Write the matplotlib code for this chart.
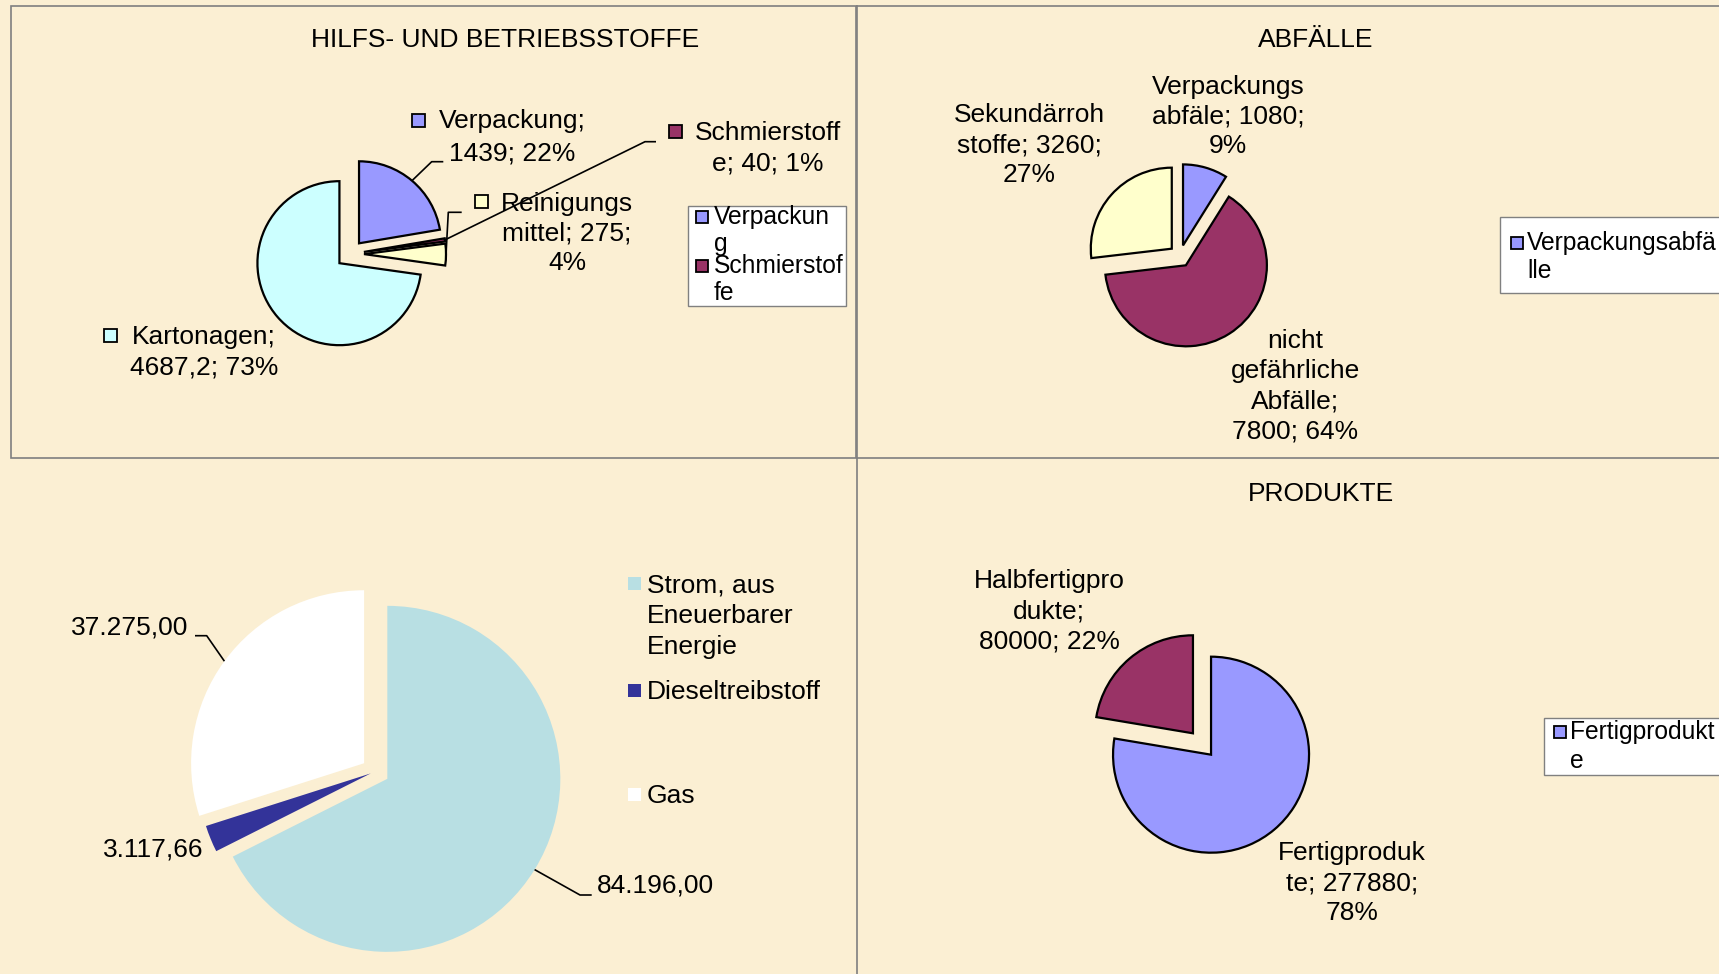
import numpy as np
import matplotlib
matplotlib.use("Agg")
import matplotlib.pyplot as plt
from matplotlib.patches import Rectangle

plt.rcParams["font.family"] = ["Liberation Sans", "DejaVu Sans"]

# ---- data -----------------------------------------------------------
hilfs_names = ["Verpackung", "Schmierstoffe", "Reinigungsmittel", "Kartonagen"]
hilfs_values = [1439, 40, 275, 4687.2]
hilfs_labels = ["Verpackung;\n1439; 22%", "Schmierstoff\ne; 40; 1%",
                "Reinigungs\nmittel; 275;\n4%", "Kartonagen;\n4687,2; 73%"]
hilfs_legend = ["Verpackun\ng", "Schmierstof\nfe"]
hilfs_colors = ["#9999FF", "#993366", "#FFFFCC", "#CCFFFF"]

abfall_names = ["Verpackungsabfälle", "nicht gefährliche Abfälle", "Sekundärrohstoffe"]
abfall_values = [1080, 7800, 3260]
abfall_labels = ["Verpackungs\nabfäle; 1080;\n9%", "nicht\ngefährliche\nAbfälle;\n7800; 64%",
                 "Sekundärroh\nstoffe; 3260;\n27%"]
abfall_legend = ["Verpackungsabfä\nlle"]
abfall_colors = ["#9999FF", "#993366", "#FFFFCC"]

energie_names = ["Strom, aus Eneuerbarer Energie", "Dieseltreibstoff", "Gas"]
energie_values = [84196.00, 3117.66, 37275.00]
energie_legend = ["Strom, aus\nEneuerbarer\nEnergie", "Dieseltreibstoff", "Gas"]
energie_colors = ["#B8DFE3", "#333399", "#FFFFFF"]

produkt_names = ["Fertigprodukte", "Halbfertigprodukte"]
produkt_values = [277880, 80000]
produkt_labels = ["Fertigproduk\nte; 277880;\n78%", "Halbfertigpro\ndukte;\n80000; 22%"]
produkt_legend = ["Fertigprodukt\ne"]
produkt_colors = ["#9999FF", "#993366"]

# ---- setup ------------------------------------------------------------
W, H = 1719, 974
BG = "#FBEFD3"
FS = 19
LFS = 17.7

fig = plt.figure(figsize=(W / 100, H / 100), dpi=100, facecolor=BG)
ax = fig.add_axes([0, 0, 1, 1])


def Y(y):
    # pixel row -> data y
    return H - y


def lines_text(x, y, text, dy=30.5, ha="center", size=FS):
    for i, line in enumerate(text.split("\n")):
        ax.text(x, Y(y + i * dy), line, ha=ha, va="center", fontsize=size,
                color="black", zorder=6)


def key(x, y, color, edge=True, s=13):
    ax.add_patch(Rectangle((x - s / 2, Y(y) - s / 2), s, s, facecolor=color,
                           edgecolor="black" if edge else color,
                           lw=1.3 if edge else 0, zorder=5))


def pie(values, colors, c, r, expl, edge=True):
    if np.isscalar(expl):
        expl = [expl] * len(values)
    wp = dict(edgecolor="black", linewidth=1.6) if edge else dict(linewidth=0)
    wedges, _ = ax.pie(values, colors=colors, startangle=90, counterclock=False,
                       center=(c[0], Y(c[1])), radius=r,
                       explode=expl, wedgeprops=wp, frame=True)
    return wedges


def leader(w, *pts):
    t = np.deg2rad((w.theta1 + w.theta2) / 2)
    x0 = w.center[0] + w.r * np.cos(t)
    y0 = w.center[1] + w.r * np.sin(t)
    ax.plot([x0] + [p[0] for p in pts], [y0] + [Y(p[1]) for p in pts],
            color="black", lw=1.2, zorder=4, solid_capstyle="butt")


def legend_box(x0, y0, x1, y1):
    ax.add_patch(Rectangle((x0, Y(y1)), x1 - x0, y1 - y0, facecolor="white",
                           edgecolor="#808080", lw=1.0, zorder=3))


def de(v):
    return f"{v:,.2f}".replace(",", " ").replace(".", ",").replace(" ", ".")


# ---- panel frames ---------------------------------------------------------
frame_kw = dict(color="#7F7F7F", lw=1.2, zorder=0.5)
ax.add_patch(Rectangle((10.7, Y(458)), 855.5 - 10.7, 458 - 5.5, fill=False,
                       edgecolor="#7F7F7F", lw=1.2))
ax.plot([857, 857], [Y(5.5), Y(974)], **frame_kw)
ax.plot([857, W], [Y(5.5), Y(5.5)], **frame_kw)
ax.plot([857, W], [Y(458), Y(458)], **frame_kw)

# ---- HILFS- UND BETRIEBSSTOFFE ------------------------------------------
ax.text(505, Y(40), "HILFS- UND BETRIEBSSTOFFE", ha="center", va="center", fontsize=FS)
w1 = pie(hilfs_values, hilfs_colors, (350, 254), 82, 14)
leader(w1[0], (431.7, 161.7), (443.3, 161.7))
leader(w1[1], (645, 141.7), (656, 141.7))
leader(w1[2], (448.3, 212.3), (461.7, 212.3))
lines_text(512, 121, hilfs_labels[0], dy=32)
key(418.5, 120, hilfs_colors[0])
lines_text(768, 133, hilfs_labels[1], dy=31)
key(675, 131.5, hilfs_colors[1])
lines_text(567, 204, hilfs_labels[2], dy=29.5)
key(481, 201.5, hilfs_colors[2])
lines_text(204, 337, hilfs_labels[3], dy=31)
key(110, 335, hilfs_colors[3])

legend_box(688, 206, 846, 306)
for i, (lab, col) in enumerate(zip(hilfs_legend, hilfs_colors)):
    y = 217 + i * 49
    key(702, y, col, s=12)
    lines_text(714, y, lab, dy=27, ha="left", size=LFS)

# ---- ABFÄLLE ------------------------------------------------------------
ax.text(1316, Y(40), "ABFÄLLE", ha="center", va="center", fontsize=FS)
w2 = pie(abfall_values, abfall_colors, (1180, 256), 81, 11)
lines_text(1228, 87, abfall_labels[0], dy=29.5)
lines_text(1295, 341, abfall_labels[1], dy=30.3)
lines_text(1029, 115, abfall_labels[2], dy=30)

legend_box(1500, 217, W + 20, 293)
key(1517, 243, abfall_colors[0], s=12)
lines_text(1527, 243, abfall_legend[0], dy=28.4, ha="left", size=LFS)

# ---- Energie (no title) --------------------------------------------------
w3 = pie(energie_values, energie_colors, (375.4, 771.5), 173, [14, 5, 14], edge=False)
leader(w3[0], (580, 895), (591.7, 895))
leader(w3[2], (206.7, 635.7), (195, 635.7))
lines_text(597, 886, de(energie_values[0]), ha="left")
lines_text(203, 849, de(energie_values[1]), ha="right")
lines_text(188.3, 628, de(energie_values[2]), ha="right")

for lab, col, y in zip(energie_legend, energie_colors, [583, 690, 794]):
    key(634, y, col, edge=False, s=13)
    lines_text(647, y + 2, lab, dy=31, ha="left", size=FS)

# ---- PRODUKTE -----------------------------------------------------------
ax.text(1321, Y(494), "PRODUKTE", ha="center", va="center", fontsize=FS)
w4 = pie(produkt_values, produkt_colors, (1202, 744), 98, 14)
lines_text(1352, 853, produkt_labels[0], dy=30)
lines_text(1049, 581, produkt_labels[1], dy=30)

legend_box(1544, 718, W + 20, 775)
key(1560, 732, produkt_colors[0], s=12)
lines_text(1570, 732, produkt_legend[0], dy=29, ha="left", size=LFS)

ax.set_xlim(0, W)
ax.set_ylim(0, H)
ax.set_aspect("auto")
ax.set_axis_off()

fig.savefig("out.png", dpi=100, facecolor=BG)
